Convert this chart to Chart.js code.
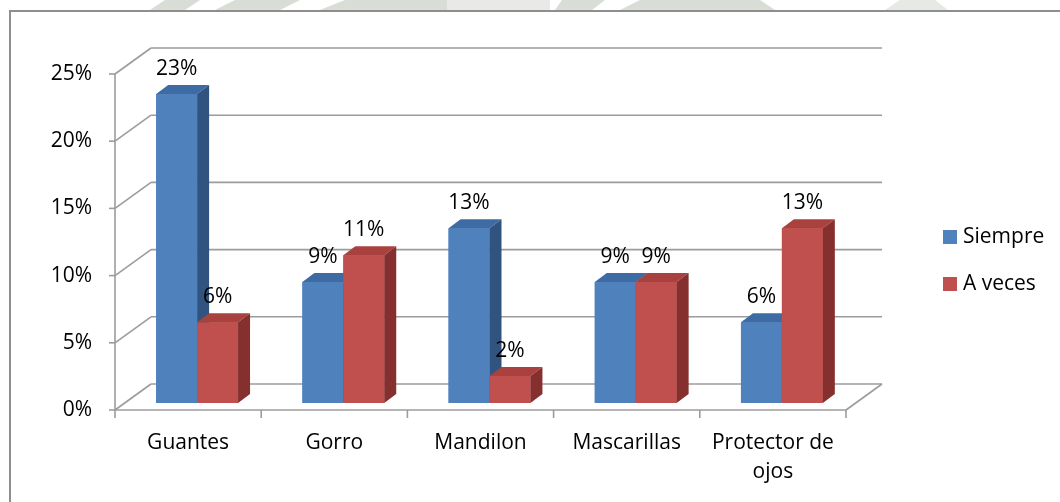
<!DOCTYPE html>
<html>
<head>
<meta charset="utf-8">
<title>Uso de equipo de protección</title>
<script src="https://cdn.jsdelivr.net/npm/chart.js@4.4.1/dist/chart.umd.min.js"></script>
<style>
  html, body { margin: 0; padding: 0; background: #fff; }
  #wrap { width: 1060px; height: 502px; }
</style>
</head>
<body>
<div id="wrap"><canvas id="chart" width="1060" height="502"></canvas></div>
<script>
// datos
const categories = ['Guantes', 'Gorro', 'Mandilon', 'Mascarillas', ['Protector de', 'ojos']];
const siempre = [23, 9, 13, 9, 6];
const aVeces = [6, 11, 2, 9, 13];
const seriesNames = ['Siempre', 'A veces'];
const yMax = 25;
const yStep = 5;

// profundidad de la vista 3D
const WALL = { dx: 36, dy: -26 };   // fondo de la pared
const PLANE = { dx: 9, dy: -7 };    // plano donde se apoyan las barras
const BAR = { dx: 12, dy: -9 };     // grosor de cada barra

const FONT = '"Open Sans", sans-serif';
const FSIZE = 21;
const GRID = '#9c9c9c';

// colores: frente, techo, lado
const shades = {
  '#4f81bd': { top: '#3e6ba3', side: '#30547f' },
  '#c0504d': { top: '#a9423f', side: '#85302e' }
};

function poly(ctx, pts, color) {
  ctx.beginPath();
  ctx.moveTo(pts[0][0], pts[0][1]);
  for (let i = 1; i < pts.length; i++) ctx.lineTo(pts[i][0], pts[i][1]);
  ctx.closePath();
  ctx.fillStyle = color;
  ctx.fill();
}

function line(ctx, x1, y1, x2, y2) {
  ctx.beginPath();
  ctx.moveTo(x1, y1);
  ctx.lineTo(x2, y2);
  ctx.stroke();
}

// fondo, marca de agua, marco, paredes y piso
const wallsPlugin = {
  id: 'walls',
  beforeDraw(chart) {
    const ctx = chart.ctx;
    const { left, right, top, bottom } = chart.chartArea;
    const y = chart.scales.y;
    ctx.save();
    ctx.fillStyle = '#fff';
    ctx.fillRect(0, 0, chart.width, chart.height);

    // marca de agua que asoma sobre el marco
    const wm = '#d8ddd5';
    poly(ctx, [[150, 10], [165, 0], [200, 0], [185, 10]], wm);
    poly(ctx, [[215, 10], [235, 0], [300, 0], [280, 10]], wm);
    poly(ctx, [[320, 10], [345, 0], [447, 0], [447, 10]], wm);
    poly(ctx, [[447, 0], [550, 0], [550, 10], [447, 10]], '#e9eae8');
    poly(ctx, [[555, 10], [562, 0], [605, 0], [592, 10]], wm);
    poly(ctx, [[620, 10], [640, 0], [760, 0], [775, 10]], wm);
    poly(ctx, [[885, 10], [900, 0], [935, 0], [948, 10]], '#e6e9e4');

    // marco del gráfico
    ctx.strokeStyle = '#8e8e8e';
    ctx.lineWidth = 2;
    ctx.beginPath();
    ctx.moveTo(10, chart.height + 5);
    ctx.lineTo(10, 11);
    ctx.lineTo(chart.width + 5, 11);
    ctx.stroke();

    ctx.strokeStyle = GRID;
    ctx.lineWidth = 1.6;
    for (let v = 0; v <= yMax; v += yStep) {
      const py = y.getPixelForValue(v);
      // pared lateral y pared del fondo
      line(ctx, left, py, left + WALL.dx, py + WALL.dy);
      line(ctx, left + WALL.dx, py + WALL.dy, right + WALL.dx, py + WALL.dy);
      // marca del eje
      line(ctx, left - 6, py, left, py);
    }
    // eje vertical y borde del piso
    line(ctx, left, top, left, bottom);
    line(ctx, left, bottom, right, bottom);
    line(ctx, right, bottom, right + WALL.dx, bottom + WALL.dy);
    // divisiones entre categorías
    const n = categories.length;
    const w = (right - left) / n;
    for (let i = 0; i <= n; i++) {
      const px = left + i * w;
      line(ctx, px, bottom, px, bottom + 8);
    }
    ctx.restore();
  },
  beforeDatasetsDraw(chart) {
    chart.ctx.save();
    chart.ctx.translate(PLANE.dx, PLANE.dy);
  },
  afterDatasetsDraw(chart) {
    const ctx = chart.ctx;
    const metas = chart.data.datasets.map((d, i) => chart.getDatasetMeta(i));
    // se dibuja categoría por categoría para que la cara lateral quede detrás de la barra vecina
    for (let i = 0; i < categories.length; i++) {
      metas.forEach((meta, di) => {
        const bar = meta.data[i];
        const { x, y, base, width } = bar.getProps(['x', 'y', 'base', 'width'], true);
        const color = chart.data.datasets[di].backgroundColor;
        const l = x - width / 2;
        const r = x + width / 2;
        poly(ctx, [[l, y], [r, y], [r, base], [l, base]], color);
        poly(ctx, [[l, y], [l + BAR.dx, y + BAR.dy], [r + BAR.dx, y + BAR.dy], [r, y]], shades[color].top);
        poly(ctx, [[r, y], [r + BAR.dx, y + BAR.dy], [r + BAR.dx, base + BAR.dy], [r, base]], shades[color].side);
      });
    }
    // etiquetas de valor
    ctx.fillStyle = '#000';
    ctx.font = FSIZE + 'px ' + FONT;
    ctx.textAlign = 'center';
    ctx.textBaseline = 'alphabetic';
    metas.forEach((meta, di) => {
      const values = chart.data.datasets[di].data;
      meta.data.forEach((bar, i) => {
        const { x, y } = bar.getProps(['x', 'y'], true);
        ctx.fillText(Math.round(values[i]) + '%', x, y - 19);
      });
    });
    ctx.restore();
  },
  afterDraw(chart) {
    // leyenda
    const ctx = chart.ctx;
    ctx.save();
    ctx.font = FSIZE + 'px ' + FONT;
    ctx.textAlign = 'left';
    ctx.textBaseline = 'middle';
    chart.data.datasets.forEach((ds, i) => {
      const cy = 237 + i * 47;
      ctx.fillStyle = ds.backgroundColor;
      ctx.fillRect(943, cy - 7, 14, 14);
      ctx.fillStyle = '#000';
      ctx.fillText(ds.label, 963, cy);
    });
    ctx.restore();
  }
};

new Chart(document.getElementById('chart'), {
  type: 'bar',
  data: {
    labels: categories,
    datasets: [
      { label: seriesNames[0], data: siempre, backgroundColor: '#4f81bd' },
      { label: seriesNames[1], data: aVeces, backgroundColor: '#c0504d' }
    ]
  },
  options: {
    responsive: false,
    devicePixelRatio: 1,
    animation: false,
    events: [],
    layout: { padding: { left: 25, right: 214, top: 74, bottom: 12 } },
    datasets: { bar: { categoryPercentage: 0.56, barPercentage: 1 } },
    plugins: { legend: { display: false }, tooltip: { enabled: false } },
    scales: {
      x: {
        grid: { display: false, drawTicks: false },
        border: { display: false },
        ticks: {
          color: '#000',
          padding: 18,
          maxRotation: 0,
          autoSkip: false,
          font: { family: FONT, size: FSIZE, lineHeight: 1.4 }
        },
        afterFit(scale) { scale.height = 80; }
      },
      y: {
        min: 0,
        max: yMax,
        grid: { display: false, drawTicks: false },
        border: { display: false },
        ticks: {
          stepSize: yStep,
          color: '#000',
          padding: 23,
          font: { family: FONT, size: FSIZE },
          callback: v => v + '%'
        },
        afterFit(scale) { scale.width = 90; }
      }
    }
  },
  plugins: [wallsPlugin]
});
</script>
</body>
</html>
